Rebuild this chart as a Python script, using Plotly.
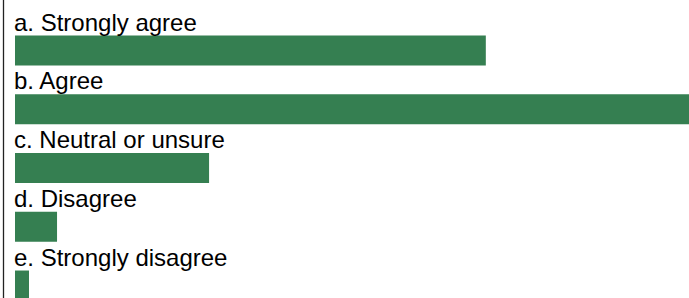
import plotly.graph_objects as go

categories = ["a. Strongly agree", "b. Agree", "c. Neutral or unsure", "d. Disagree", "e. Strongly disagree"]
values = [33.6, 48.1, 13.85, 3.0, 1.0]

W, H = 689, 298
left_px = 4          # plot area left edge
zero_px = 15         # where the value 0 sits
xmax = values[1]
span = W - zero_px
x0 = -(zero_px - left_px) / span * xmax

pitch = 58.75
first_center = 50.5
y_top = -first_center / pitch
y_bot = (H - first_center) / pitch

ypos = list(range(len(categories)))

fig = go.Figure()
fig.add_trace(go.Bar(
    x=values, y=ypos, orientation="h", width=0.51,
    marker=dict(color="#357f51", line=dict(width=0)),
    hoverinfo="skip",
))

for i, c in enumerate(categories):
    fig.add_annotation(
        x=0, y=i - 0.255, xref="x", yref="y", text=c, showarrow=False,
        xanchor="left", yanchor="bottom", xshift=-3, yshift=-2,
        font=dict(family="Liberation Sans, Arial, sans-serif", size=24, color="#000000"),
    )

pw = W - left_px
fig.add_shape(type="line", xref="paper", yref="paper",
              x0=-0.5 / pw, x1=-0.5 / pw, y0=0, y1=1,
              line=dict(color="#222222", width=1.3))

fig.update_layout(
    width=W, height=H,
    margin=dict(l=left_px, r=0, t=0, b=0),
    paper_bgcolor="white", plot_bgcolor="white",
    showlegend=False,
    xaxis=dict(range=[x0, xmax], visible=False, fixedrange=True),
    yaxis=dict(range=[y_bot, y_top], visible=False, fixedrange=True),
)

fig.write_html("out.html", config={"displayModeBar": False},
               post_script="document.body.style.margin='0';document.body.style.overflow='hidden';")
